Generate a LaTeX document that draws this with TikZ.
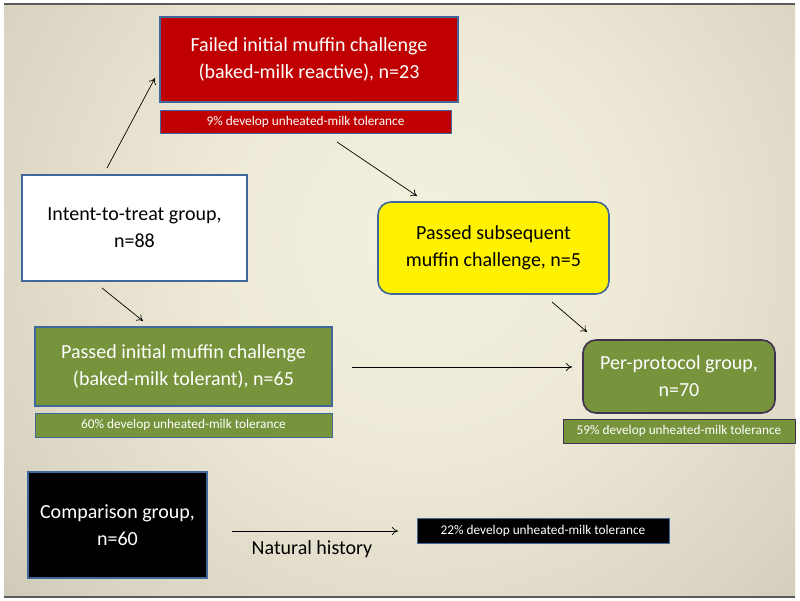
\documentclass[tikz,border=0pt]{standalone}
\usepackage{fontspec}
\setmainfont{Carlito}
\usetikzlibrary{arrows.meta}
\definecolor{bgc0}{HTML}{F3F0DF}
\definecolor{bgc1}{HTML}{EEEAD7}
\definecolor{bgc2}{HTML}{DAD5C2}
\definecolor{bgc3}{HTML}{B6B1A2}
\definecolor{bgc4}{HTML}{9A9586}
\pgfdeclareradialshading{bgshade}{\pgfpoint{0bp}{0bp}}{color(0bp)=(bgc0); color(10bp)=(bgc1); color(22bp)=(bgc2); color(37bp)=(bgc3); color(50bp)=(bgc4)}
\definecolor{boxblue}{HTML}{41689A}
\definecolor{redfill}{HTML}{C00000}
\definecolor{greenfill}{HTML}{77933C}
\definecolor{purpleedge}{HTML}{3F3151}
\definecolor{framegray}{HTML}{5A5A5A}
\tikzset{
  bigbox/.style={draw=boxblue, line width=1.6pt, inner sep=0pt, align=center, font=\fontsize{20}{27}\selectfont},
  barbox/.style={draw=boxblue, line width=0.6pt, inner sep=0pt, align=center, font=\fontsize{13.3}{15}\selectfont, text=white},
  arr/.style={draw=black, line width=0.7pt, -{To[length=6pt,width=8pt]}}
}
\begin{document}
\begin{tikzpicture}[x=1pt,y=-1pt]
\useasboundingbox (0,0) rectangle (800,601);
\fill[white] (0,0) rectangle (800,601);
\begin{scope}
\clip (4,4) rectangle (795,597);
\shade[shading=bgshade] (-100,-280) rectangle (940,760);
\end{scope}
\draw[framegray, line width=1.2pt] (4,4) -- (795,4);
\draw[framegray, line width=1.2pt] (4,597) -- (795,597);

% nodes
\node[bigbox, fill=redfill, text=white, minimum width=298pt, minimum height=85pt] (failed) at (309,59.5) {Failed initial muffin challenge\\(baked-milk reactive), n=23};
\node[barbox, fill=redfill, minimum width=291pt, minimum height=23pt] (failedbar) at (305.5,121.5) {9\% develop unheated-milk tolerance};
\node[bigbox, fill=white, text=black, minimum width=225pt, minimum height=106pt] (itt) at (134.5,228) {Intent-to-treat group,\\n=88};
\node[bigbox, fill=greenfill, text=white, minimum width=297pt, minimum height=79pt] (passed) at (183.5,366.5) {Passed initial muffin challenge\\(baked-milk tolerant), n=65};
\node[barbox, fill=greenfill, minimum width=297pt, minimum height=24pt] (passedbar) at (183.5,425) {60\% develop unheated-milk tolerance};
\node[bigbox, fill=yellow, text=black, rounded corners=13pt, minimum width=231pt, minimum height=92pt] (subseq) at (493.5,248) {Passed subsequent\\muffin challenge, n=5};
\node[bigbox, draw=purpleedge, fill=greenfill, text=white, rounded corners=13pt, minimum width=192pt, minimum height=73pt] (pp) at (679,376.5) {Per-protocol group,\\n=70};
\node[barbox, draw=purpleedge, fill=greenfill, minimum width=232pt, minimum height=24pt] (ppbar) at (679,431) {59\% develop unheated-milk tolerance};
\node[bigbox, fill=black, text=white, minimum width=179pt, minimum height=106pt] (comp) at (117.5,525) {Comparison group,\\n=60};
\node[barbox, fill=black, minimum width=252pt, minimum height=25pt] (compbar) at (543,530.5) {22\% develop unheated-milk tolerance};

% connector end points
\coordinate (a1s) at (107,168);
\coordinate (a1e) at (155,78);
\coordinate (a2s) at (102,288);
\coordinate (a2e) at (143,321);
\coordinate (a3s) at (337,142);
\coordinate (a3e) at (417,196);
\coordinate (a4s) at (552,302);
\coordinate (a4e) at (587,332);
\coordinate (a5s) at (352,367);
\coordinate (a5e) at (572,367);
\coordinate (a6s) at (232,531);
\coordinate (a6e) at (398,531);

\draw[arr] (a1s) -- (a1e);
\draw[arr] (a2s) -- (a2e);
\draw[arr] (a3s) -- (a3e);
\draw[arr] (a4s) -- (a4e);
\draw[arr] (a5s) -- (a5e);
\draw[arr] (a6s) -- (a6e);
\node[font=\fontsize{20}{24}\selectfont, text=black, inner sep=0pt] (nh) at (312,549) {Natural history};
\end{tikzpicture}
\end{document}
